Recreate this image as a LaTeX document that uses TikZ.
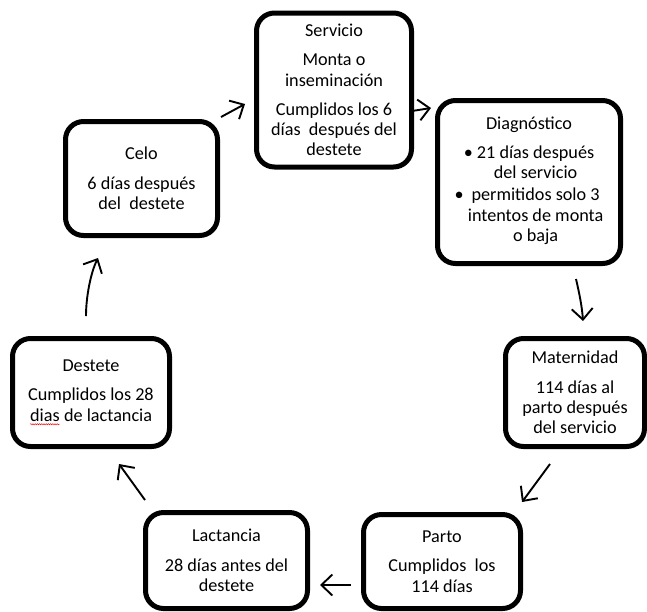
\documentclass[tikz,border=0pt]{standalone}
\usepackage{fontspec}
\setmainfont{Carlito}
\usetikzlibrary{arrows.meta,decorations.pathmorphing}
\newcommand\spellmark[1]{\tikz[baseline=(sw.base),x=1cm,y=1cm]{\node[draw=none,inner sep=0pt,outer sep=0pt,minimum width=0pt,minimum height=0pt,rounded corners=0pt,line width=0.4pt] (sw) {#1};\draw[red,sharp corners,line width=0.5pt,decorate,decoration={snake,amplitude=0.6pt,segment length=2.2pt}] ([yshift=-3pt]sw.base west) -- ([yshift=-3pt]sw.base east);}}
\begin{document}
\begin{tikzpicture}[x=1pt,y=-1pt,
  stagebox/.style={draw,line width=5pt,rounded corners=18pt,align=center,inner sep=0pt,
    font=\fontsize{18.2}{20.3}\selectfont},
  flow/.style={line width=1.9pt,-{Straight Barb[length=11pt,width=21pt,line width=1.9pt]}}]
\useasboundingbox (0,0) rectangle (647,611);
\node[stagebox,minimum width=155pt,minimum height=154pt] (servicio) at (334,90)
  {Servicio\\[9pt]Monta o\\inseminación\\[9pt]Cumplidos los 6\\días~ después del\\destete};
\node[stagebox,minimum width=183pt,minimum height=163pt] (diag) at (529,182)
  {Diagnóstico\\[9pt]\textbullet\ \begin{tabular}[t]{@{}c@{}}21 días después\\del servicio\end{tabular}\\[1pt]\textbullet\ \begin{tabular}[t]{@{}c@{}}permitidos solo 3\\intentos de monta\\o baja\end{tabular}};
\node[stagebox,minimum width=139pt,minimum height=108pt] (mat) at (575,392.5)
  {Maternidad\\[9pt]114 días al\\parto después\\del servicio};
\node[stagebox,minimum width=157pt,minimum height=94pt] (parto) at (442,561.5)
  {Parto\\[9pt]Cumplidos~ los\\114 días};
\node[stagebox,minimum width=162pt,minimum height=96pt] (lact) at (226.5,560.5)
  {Lactancia\\[9pt]28 días antes del\\destete};
\node[stagebox,minimum width=157pt,minimum height=108pt] (destete) at (91,392.5)
  {Destete\\[9pt]Cumplidos los 28\\\spellmark{dias} de lactancia};
\node[stagebox,minimum width=152pt,minimum height=114pt] (celo) at (141.5,178.5)
  {Celo\\[9pt]6 días después\\del~ destete};
\coordinate (a1s) at (221,117); \coordinate (a1e) at (245,104);
\coordinate (a2s) at (412,111); \coordinate (a2e) at (431,108);
\coordinate (a3s) at (576,279); \coordinate (a3e) at (583,321);
\coordinate (a4s) at (550,464); \coordinate (a4e) at (522,502);
\coordinate (a5s) at (351,585); \coordinate (a5e) at (320,585);
\coordinate (a6s) at (145,500); \coordinate (a6e) at (119,464);
\coordinate (a7s) at (86,316);  \coordinate (a7e) at (98,258);
\draw[flow] (a1s) -- (a1e);
\draw[flow] (a2s) -- (a2e);
\draw[flow] (a3s) .. controls (579,292) and (582,306) .. (a3e);
\draw[flow] (a4s) -- (a4e);
\draw[flow] (a5s) -- (a5e);
\draw[flow] (a6s) -- (a6e);
\draw[flow] (a7s) .. controls (86,296) and (91,272) .. (a7e);
\end{tikzpicture}
\end{document}
